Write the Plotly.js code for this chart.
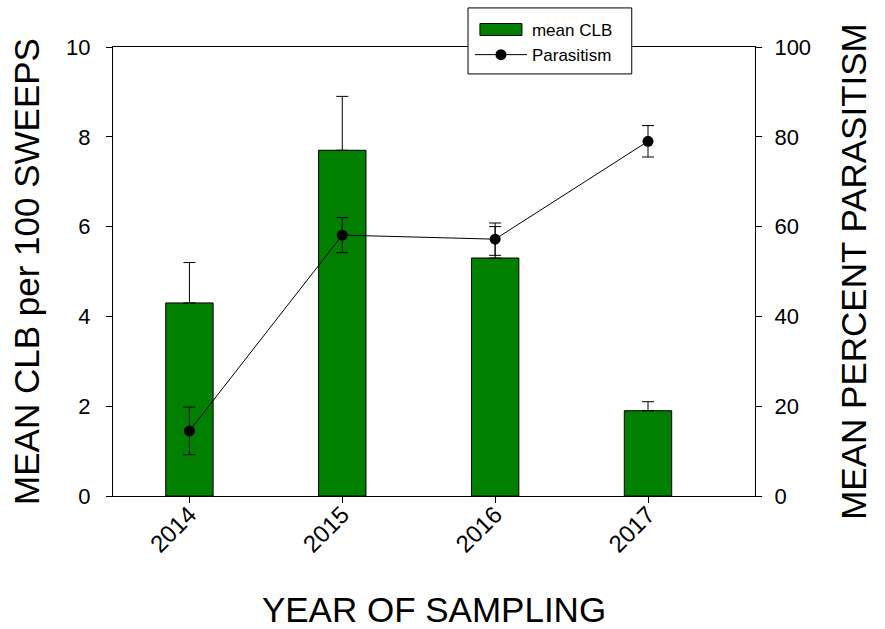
<!DOCTYPE html>
<html>
<head>
<meta charset="utf-8">
<script src="https://cdn.plot.ly/plotly-3.0.1.min.js"></script>
<style>html,body{margin:0;padding:0;background:#fff;}#chart{width:885px;height:629px;}</style>
</head>
<body>
<div id="chart"></div>
<script>
const years = ["2014", "2015", "2016", "2017"];
const meanCLB = [4.3, 7.7, 5.3, 1.9];
const meanCLBErr = [0.9, 1.2, 0.7, 0.2];
const parasitism = [14.5, 58.1, 57.2, 79.0];
const parasitismErr = [5.3, 3.9, 3.6, 3.5];

const FONT = "Liberation Sans, Arial, sans-serif";

const barTrace = {
  type: "bar",
  name: "mean CLB",
  x: years,
  y: meanCLB,
  width: 0.31,
  marker: {color: "#007F00", line: {color: "#000", width: 1}},
  error_y: {type: "data", array: meanCLBErr, arrayminus: meanCLBErr.map(() => 0), symmetric: false, color: "#000", thickness: 1, width: 6},
  yaxis: "y"
};

const lineTrace = {
  type: "scatter",
  mode: "lines+markers",
  name: "Parasitism",
  x: years,
  y: parasitism,
  line: {color: "#000", width: 1},
  marker: {color: "#000", size: 11},
  error_y: {type: "data", array: parasitismErr, color: "#000", thickness: 1, width: 6},
  yaxis: "y2"
};

const layout = {
  width: 885,
  height: 629,
  margin: {l: 113, r: 130, t: 47, b: 133},
  paper_bgcolor: "#fff",
  plot_bgcolor: "#fff",
  font: {family: FONT, color: "#000"},
  showlegend: true,
  legend: {
    x: 0.556, y: 1.078, xanchor: "left", yanchor: "top",
    bgcolor: "rgba(0,0,0,0)", borderwidth: 0,
    font: {family: FONT, size: 17, color: "#000"},
    itemwidth: 52, tracegroupgap: 0
  },
  shapes: [{
    type: "rect", xref: "paper", yref: "paper",
    x0: 0.553, x1: 0.808, y0: 0.940, y1: 1.087,
    fillcolor: "#fff", line: {color: "#000", width: 1}, layer: "above"
  }],
  xaxis: {
    type: "category",
    range: [-0.5, 3.7],
    showline: true, linecolor: "#000", linewidth: 1, mirror: true,
    ticks: "outside", ticklen: 6, tickcolor: "#000",
    tickangle: -45,
    ticklabelstandoff: -12,
    tickfont: {family: FONT, size: 24, color: "#000"},
    showgrid: false, zeroline: false,
    title: {text: "YEAR OF SAMPLING", font: {family: FONT, size: 35, color: "#000"}, standoff: 50}
  },
  yaxis: {
    range: [0, 10],
    tickvals: [0, 2, 4, 6, 8, 10],
    showline: true, linecolor: "#000", linewidth: 1,
    ticks: "outside", ticklen: 6, tickcolor: "#000",
    ticklabelstandoff: 11,
    tickfont: {family: FONT, size: 22, color: "#000"},
    showgrid: false, zeroline: false,
    title: {text: "MEAN CLB per 100 SWEEPS", font: {family: FONT, size: 35, color: "#000"}, standoff: 15}
  },
  yaxis2: {
    range: [0, 100],
    tickvals: [0, 20, 40, 60, 80, 100],
    overlaying: "y", side: "right",
    showline: true, linecolor: "#000", linewidth: 1,
    ticks: "outside", ticklen: 6, tickcolor: "#000",
    ticklabelstandoff: 8,
    tickfont: {family: FONT, size: 22, color: "#000"},
    showgrid: false, zeroline: false,
    title: {text: "MEAN PERCENT PARASITISM", font: {family: FONT, size: 35, color: "#000"}, standoff: 31}
  }
};

Plotly.newPlot("chart", [barTrace, lineTrace], layout, {displayModeBar: false, staticPlot: true}).then(function (gd) {
  // widen the bar swatch in the legend to a flat rectangle like the original
  const items = gd.querySelectorAll(".legend .traces");
  if (items.length) {
    const p = items[0].querySelector(".legendpoints path");
    if (p) p.setAttribute("d", "M-21,-6h42v12h-42Z");
  }
});
</script>
</body>
</html>
